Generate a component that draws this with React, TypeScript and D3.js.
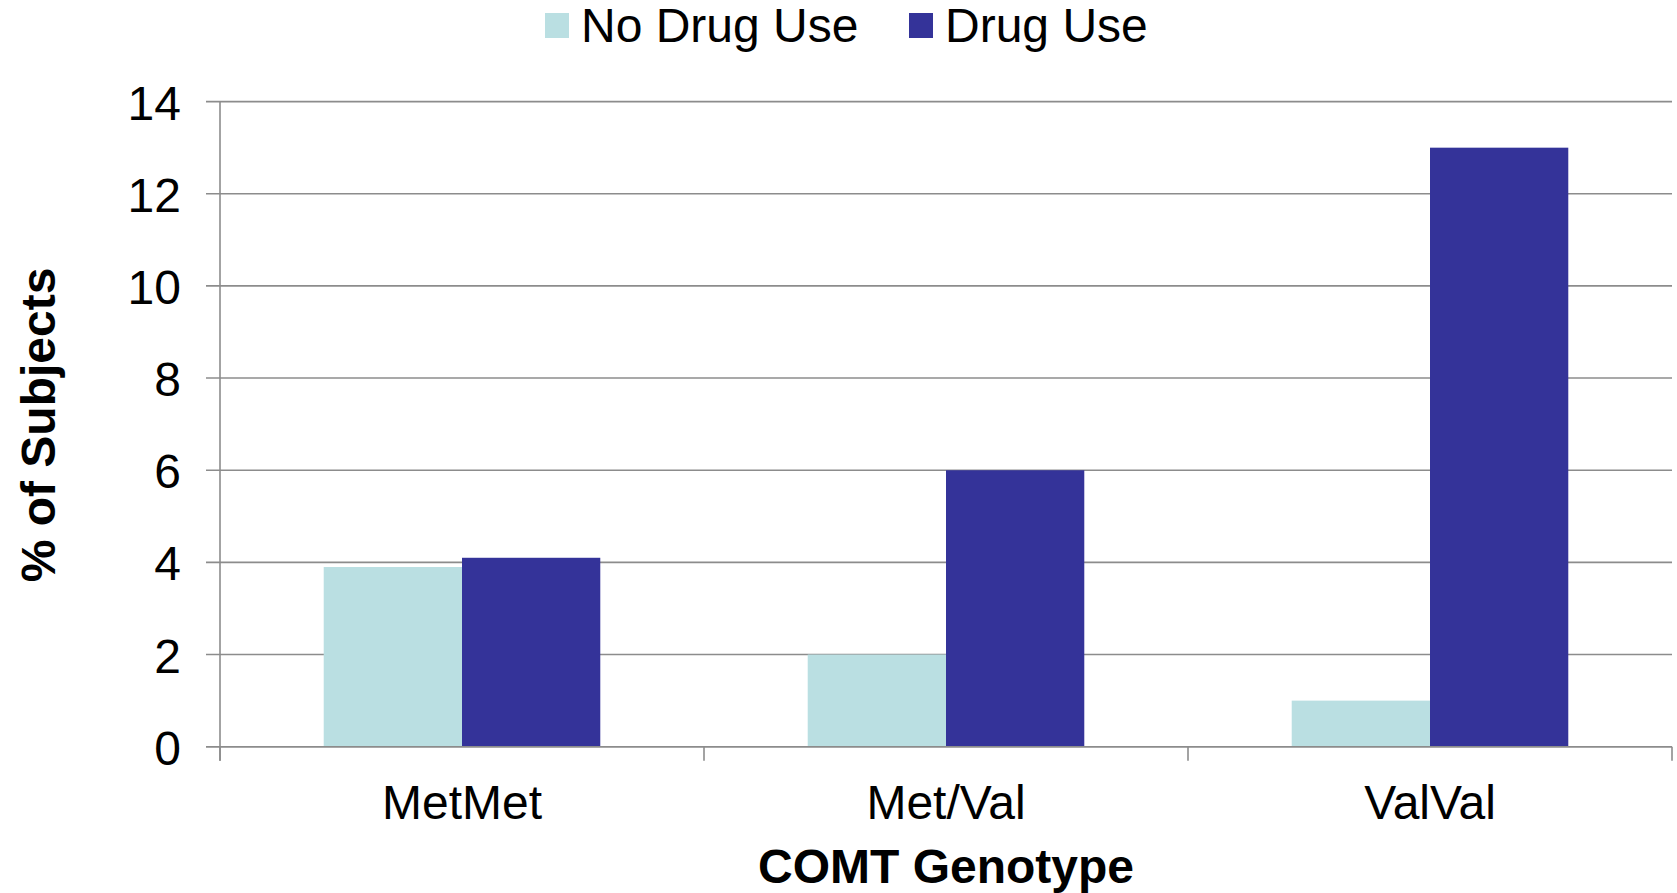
import React from "react";
import * as d3 from "d3";

const genotypes = ["MetMet", "Met/Val", "ValVal"];
const seriesNames = ["No Drug Use", "Drug Use"];
const noDrugUse = [3.9, 2, 1];
const drugUse = [4.1, 6, 13];
const yTicks = [0, 2, 4, 6, 8, 10, 12, 14];
const seriesColors = ["#badfe2", "#343399"];

const W = 1677;
const H = 893;
const margin = { left: 220, right: 5, top: 101.6, bottom: 146.3 };
const FONT = "'Liberation Sans', Arial, Helvetica, sans-serif";

export default function App() {
  const x0 = d3
    .scaleBand<string>()
    .domain(genotypes)
    .range([margin.left, W - margin.right])
    .paddingInner(0)
    .paddingOuter(0);
  const x1 = d3
    .scaleBand<string>()
    .domain(seriesNames)
    .range([0, x0.bandwidth()])
    .paddingInner(0)
    .paddingOuter(0.75);
  const y = d3
    .scaleLinear()
    .domain([0, 14])
    .range([H - margin.bottom, margin.top]);

  const values = [noDrugUse, drugUse];
  const gridColor = "#8c8c8c";
  const y0 = y(0);
  const boundaries = [...genotypes.map((g) => x0(g)!), W - margin.right];

  return (
    <svg
      width={W}
      height={H}
      style={{ position: "absolute", left: 0, top: 0, display: "block", background: "#fff" }}
      fontFamily={FONT}
    >
      {/* horizontal gridlines with left tick stubs */}
      {yTicks.map((t) => (
        <g key={t}>
          <line
            x1={margin.left - 14}
            x2={W - margin.right}
            y1={y(t)}
            y2={y(t)}
            stroke={gridColor}
            strokeWidth={1.6}
          />
          <text
            x={181}
            y={y(t)}
            dy={18}
            textAnchor="end"
            fontSize={48}
            fill="#000"
          >
            {t}
          </text>
        </g>
      ))}

      {/* bars */}
      {genotypes.map((g, gi) =>
        seriesNames.map((s, si) => {
          const v = values[si][gi];
          return (
            <rect
              key={g + s}
              x={x0(g)! + x1(s)!}
              y={y(v)}
              width={x1.bandwidth()}
              height={y0 - y(v)}
              fill={seriesColors[si]}
            />
          );
        })
      )}

      {/* y axis line */}
      <line
        x1={margin.left}
        x2={margin.left}
        y1={margin.top}
        y2={y0 + 14}
        stroke={gridColor}
        strokeWidth={1.6}
      />
      {/* baseline */}
      <line
        x1={margin.left - 14}
        x2={W - margin.right}
        y1={y0}
        y2={y0}
        stroke={gridColor}
        strokeWidth={1.6}
      />
      {/* category boundary ticks */}
      {boundaries.map((bx, i) => (
        <line
          key={i}
          x1={bx}
          x2={bx}
          y1={y0}
          y2={y0 + 14}
          stroke={gridColor}
          strokeWidth={1.6}
        />
      ))}

      {/* category labels */}
      {genotypes.map((g) => (
        <text
          key={g}
          x={x0(g)! + x0.bandwidth() / 2}
          y={819}
          textAnchor="middle"
          fontSize={48}
          fill="#000"
        >
          {g}
        </text>
      ))}

      {/* axis titles */}
      <text
        x={(margin.left + W - margin.right) / 2}
        y={883}
        textAnchor="middle"
        fontSize={48}
        fontWeight="bold"
        fill="#000"
      >
        COMT Genotype
      </text>
      <text
        transform={`translate(55, 425) rotate(-90)`}
        textAnchor="middle"
        fontSize={48}
        fontWeight="bold"
        fill="#000"
      >
        % of Subjects
      </text>

      {/* legend */}
      {[
        { name: seriesNames[0], sx: 545, tx: 581 },
        { name: seriesNames[1], sx: 909, tx: 945 },
      ].map((item, i) => (
        <g key={item.name}>
          <rect x={item.sx} y={13} width={24} height={25} fill={seriesColors[i]} />
          <text x={item.tx} y={42} fontSize={48} fill="#000">
            {item.name}
          </text>
        </g>
      ))}
    </svg>
  );
}
